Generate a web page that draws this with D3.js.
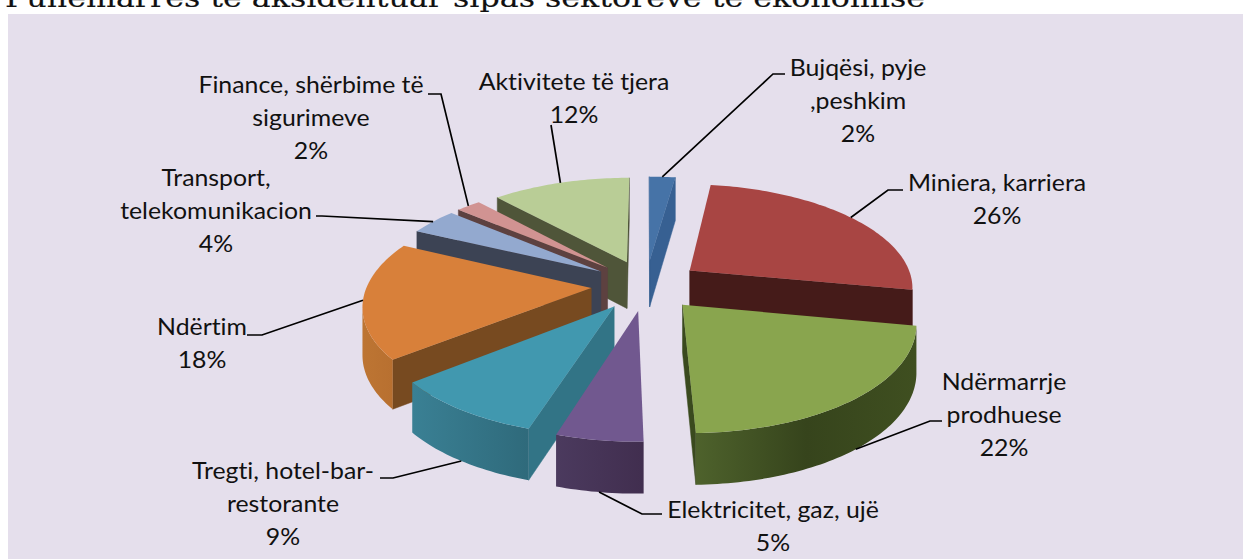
<!DOCTYPE html>
<html><head><meta charset="utf-8">
<script src="https://cdn.jsdelivr.net/npm/d3@7"></script>
<style>html,body{margin:0;padding:0;background:#fff;overflow:hidden}svg{display:block}</style>
</head><body><svg id="c" width="1243" height="559"></svg>
<script>
// --- data
const titleText = "Punëmarrës të aksidentuar sipas sektorëve të ekonomisë";
const categories = ["Bujqësi, pyje ,peshkim","Miniera, karriera","Ndërmarrje prodhuese","Elektricitet, gaz, ujë","Tregti, hotel-bar-restorante","Ndërtim","Transport, telekomunikacion","Finance, shërbime të sigurimeve","Aktivitete të tjera"];
const values = [2.2,25.8,21.6,5.2,9.4,17.9,4.1,2.1,11.7];
const labelLines = [["Bujqësi, pyje",",peshkim","2%"],["Miniera, karriera","26%"],["Ndërmarrje","prodhuese","22%"],["Elektricitet, gaz, ujë","5%"],["Tregti, hotel-bar-","restorante","9%"],["Ndërtim","18%"],["Transport,","telekomunikacion","4%"],["Finance, shërbime të","sigurimeve","2%"],["Aktivitete të tjera","12%"]];
// --- styles
const topColors = ["#4673A7","#A84543","#89A54E","#71588F","#4198AF","#D8803A","#93A9CF","#D19392","#B9CD96"];
const radialColors = ["#376092","#451B19","#3A4A1E","#433252","#327486","#774A20","#3C4354","#5D4140","#4F5539"];
const outerStops = [["#376092","#376092"],["#451B19","#451B19"],["#4E622C","#36441C","#3F4F20"],["#4B3A5E","#412E4F"],["#3A8094","#2F6A7B"],["#BD7533","#B87030"],["#3C4354","#3C4354"],["#5D4140","#5D4140"],["#4F5539","#4F5539"]];
// --- layout: text centre x, first baseline y, and the label end of each leader
const labelX = [858,997,1004,773,283,202,216,311,574];
const labelY = [76,191,390,518,479,335,186,93,90];
const lineGap = 33;
const leaderElbows = [[[773,74],[785,74]],[[888,190],[903,190]],[[930,421],[942,421]],[[642,514],[662,514]],[[393,478],[380,478]],[[262,335],[247,335]],[[322,216],[316,216]],[[441,94],[428,94]],[[551,125]]];
const leaderOnWall = [false,false,true,true,true,false,false,false,false];

const cx=646, cy=285, ax=224, by=103, persp=0.147, explode=0.245, depthBase=47;
const scale = Y => 1/(1-persp*Y);
const project = (X,Y,down=false) => { const s=scale(Y);
  return [cx+ax*X*s, cy+by*Y*s+(down?depthBase*Math.sqrt(s):0)]; };

const svg=d3.select("#c");
const defs=svg.append("defs");
svg.append("rect").attr("x",8).attr("y",14).attr("width",1235).attr("height",545).attr("fill","#E5DFEC");
svg.append("text").text(titleText).attr("x",5).attr("y",7).attr("textLength",920).attr("lengthAdjust","spacingAndGlyphs")
  .attr("font-family","DejaVu Serif").attr("font-size",26).attr("fill","#111").attr("stroke","#111").attr("stroke-width",0.15);

const arcs=d3.pie().sort(null)(values);
const line=d3.line();
const slices=arcs.map((a,i)=>{
  const m=(a.startAngle+a.endAngle)/2;
  const ox=explode*Math.sin(m), oy=-explode*Math.cos(m);
  const pt=(ang,r=1)=>[ox+r*Math.sin(ang), oy-r*Math.cos(ang)];
  const n=Math.max(4,Math.ceil((a.endAngle-a.startAngle)/0.02));
  const angs=d3.range(n+1).map(k=>a.startAngle+(a.endAngle-a.startAngle)*k/n);
  return {i,m,ox,oy,pt,angs};
});
slices.slice().sort((p,q)=>d3.descending(Math.cos(p.m),Math.cos(q.m))).forEach(s=>{
  const g=svg.append("g");
  const P=(x,d)=>project(x[0],x[1],d);
  const apex=[s.ox,s.oy], a0=s.pt(s.angs[0]), a1=s.pt(s.angs[s.angs.length-1]);
  const wall=(p,q)=>g.append("path").attr("d",line([P(p),P(q),P(q,true),P(p,true)])+"Z")
      .attr("fill",radialColors[s.i]).attr("stroke",radialColors[s.i]).attr("stroke-width",.5);
  if(P(apex)[0]<P(a1)[0]) wall(a1,apex);
  if(P(a0)[0]<P(apex)[0]) wall(apex,a0);
  // outer wall: only the arc parts that run leftwards on screen face the viewer
  const outer=s.angs.map(t=>s.pt(t));
  const vis=[];
  for(let k=0;k<outer.length-1;k++) if(P(outer[k+1])[0]<P(outer[k])[0]) vis.push(k);
  if(vis.length){
    const tops=[...vis.map(k=>outer[k]),outer[vis[vis.length-1]+1]];
    const xs=d3.extent(tops,t=>P(t)[0]);
    const id="w"+s.i, stops=outerStops[s.i];
    const gr=defs.append("linearGradient").attr("id",id).attr("gradientUnits","userSpaceOnUse")
      .attr("x1",xs[0]).attr("x2",xs[1]).attr("y1",0).attr("y2",0);
    stops.forEach((c,j)=>gr.append("stop").attr("offset",j/(stops.length-1)).attr("stop-color",c));
    const poly=[...tops.map(t=>P(t)),...tops.slice().reverse().map(t=>P(t,true))];
    g.append("path").attr("d",line(poly)+"Z").attr("fill",`url(#${id})`);
  }
  g.append("path").attr("d",line([P(apex),...outer.map(t=>P(t))])+"Z").attr("fill",topColors[s.i]);
});
// leaders
slices.forEach(s=>{
  const o=s.pt(s.m);
  const end=project(o[0],o[1],leaderOnWall[s.i]);
  svg.append("path").attr("d",line([end,...leaderElbows[s.i]])).attr("fill","none").attr("stroke","#000").attr("stroke-width",1.7);
});
// labels
labelLines.forEach((ls,i)=>{
  ls.forEach((l,j)=>svg.append("text").attr("text-anchor","middle").attr("font-family","Lato").attr("font-size",23)
    .style("font-variant-ligatures","none").attr("fill","#111")
    .attr("transform",`translate(${labelX[i]},${labelY[i]+j*lineGap}) scale(1.08,1)`).text(l));
});
</script></body></html>
